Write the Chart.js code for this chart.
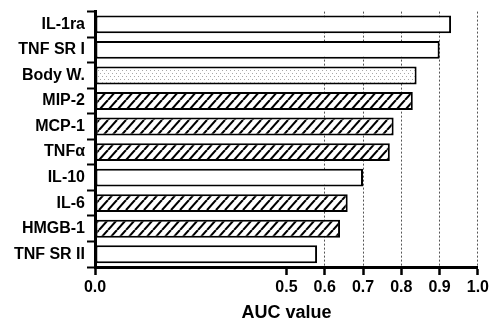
<!DOCTYPE html>
<html>
<head>
<meta charset="utf-8">
<script src="https://cdn.jsdelivr.net/npm/chart.js@4.4.1/dist/chart.umd.min.js"></script>
<style>
  html, body { margin: 0; padding: 0; background: #fff; }
  #wrap { width: 492px; height: 322px; }
</style>
</head>
<body>
<div id="wrap"><canvas id="chart" width="492" height="322"></canvas></div>
<script>
const CATEGORIES = ["IL-1ra", "TNF SR I", "Body W.", "MIP-2", "MCP-1", "TNFα", "IL-10", "IL-6", "HMGB-1", "TNF SR II"];
const AUC_VALUES = [0.93, 0.90, 0.84, 0.83, 0.78, 0.77, 0.70, 0.66, 0.64, 0.58];
const X_TICKS = [0.0, 0.5, 0.6, 0.7, 0.8, 0.9, 1.0];
// fill kind for each bar, same order as CATEGORIES
const BAR_FILLS = ["open", "open", "dots", "hatch", "hatch", "hatch", "open", "hatch", "hatch", "open"];

const FONT = "'Liberation Sans', Arial, Helvetica, sans-serif";

function makePattern(kind) {
  if (kind === "open") return "#ffffff";
  const tile = document.createElement("canvas");
  const c = tile.getContext("2d");
  if (kind === "hatch") {
    const w = 9, h = 10;
    tile.width = w; tile.height = h;
    c.fillStyle = "#fff";
    c.fillRect(0, 0, w, h);
    c.strokeStyle = "#000";
    c.lineWidth = 2.1;
    c.beginPath();
    for (let k = -1; k <= 1; k++) {
      c.moveTo(k * w, h);
      c.lineTo(k * w + w, 0);
    }
    c.stroke();
  } else {
    tile.width = 4; tile.height = 6;
    c.fillStyle = "#fff";
    c.fillRect(0, 0, 4, 6);
    c.fillStyle = "#a8a8a8";
    c.fillRect(0, 1, 1, 1);
    c.fillRect(2, 4, 1, 1);
  }
  return c.createPattern(tile, "repeat");
}

const ctx = document.getElementById("chart").getContext("2d");

new Chart(ctx, {
  type: "bar",
  data: {
    labels: CATEGORIES,
    datasets: [
      {
        data: AUC_VALUES,
        backgroundColor: BAR_FILLS.map(makePattern),
        borderColor: "#000",
        borderWidth: 2,
        borderSkipped: false,
        categoryPercentage: 1.0,
        barPercentage: 0.7,
      },
    ],
  },
  options: {
    indexAxis: "y",
    responsive: false,
    animation: false,
    layout: { padding: { top: 10, right: 2, bottom: 0, left: 0 } },
    plugins: {
      legend: { display: false },
      tooltip: { enabled: false },
    },
    scales: {
      x: {
        type: "linear",
        min: 0,
        max: 1.0,
        afterBuildTicks: (scale) => {
          scale.ticks = X_TICKS.map((v) => ({ value: v }));
        },
        afterFit: (scale) => {
          scale.height = 55;
        },
        ticks: {
          color: "#000",
          padding: 3,
          maxRotation: 0,
          autoSkip: false,
          font: { family: FONT, size: 16, weight: "bold" },
          callback: (v) => Number(v).toFixed(1),
        },
        grid: {
          color: (c) => (c.tick && c.tick.value > 0.55 ? "#555" : "rgba(0,0,0,0)"),
          lineWidth: 1,
          tickColor: "#000",
          tickLength: 8,
          tickWidth: 2.5,
        },
        border: { display: true, color: "#000", width: 3, dash: [2, 2] },
        title: {
          display: true,
          text: "AUC value",
          color: "#000",
          font: { family: FONT, size: 18, weight: "bold" },
          padding: { top: 0, bottom: -2 },
        },
      },
      y: {
        afterFit: (scale) => {
          scale.width = 95;
        },
        ticks: {
          color: "#000",
          padding: 2,
          font: { family: FONT, size: 16, weight: "bold" },
        },
        grid: {
          drawOnChartArea: false,
          tickColor: "#000",
          tickLength: 8,
          tickWidth: 2,
        },
        border: { display: true, color: "#000", width: 3 },
      },
    },
  },
});
</script>
</body>
</html>
